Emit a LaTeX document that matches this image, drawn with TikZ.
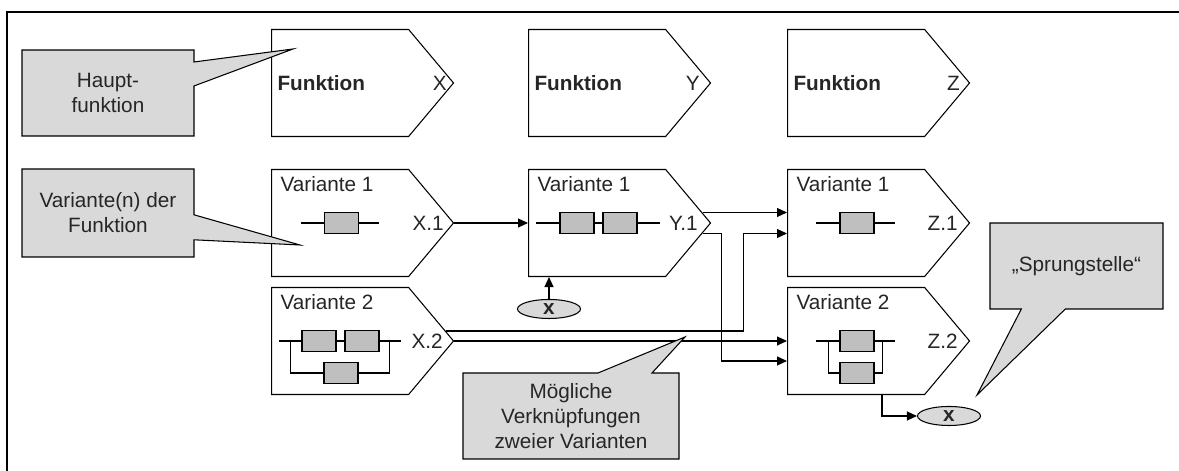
\documentclass[tikz,border=0pt]{standalone}
\usepackage{fontspec}
\setmainfont{Liberation Sans}
\usetikzlibrary{calc,shapes.symbols,shapes.geometric,shapes.callouts,arrows.meta}
\definecolor{NoteGray}{RGB}{217,217,217}
\definecolor{ElemGray}{RGB}{191,191,191}
\tikzset{
  fbox/.style={signal, signal to=east, signal from=nowhere, signal pointer angle=100,
    draw, fill=white, minimum width=3.64cm, minimum height=2.14cm, inner sep=0pt, anchor=west},
  txt/.style={inner sep=0pt},
  elem/.style={draw, fill=ElemGray, minimum width=0.68cm, minimum height=0.42cm, inner sep=0pt},
  jumpmark/.style={ellipse, draw, fill=NoteGray, minimum width=1.26cm, minimum height=0.38cm, inner sep=0pt},
  note/.style={rectangle callout, draw, fill=NoteGray, minimum width=3.44cm, minimum height=1.72cm,
    align=center, inner sep=2pt},
  link/.style={-{Triangle[length=2mm,width=1.8mm]}},
}

\begin{document}
\begin{tikzpicture}[font=\fontsize{11.8}{14.2}\selectfont, line width=0.6pt, text=black!85]
  \useasboundingbox (0,0) rectangle (23.58,9.42);
  \draw[line width=1.1pt] (0.14,0) -- (0.14,9.18) -- (23.58,9.18);

  % --- (A) Hauptfunktionen ---
  \node[fbox] (fX) at (5.42,7.76) {};
  \node[fbox] (fY) at (10.56,7.76) {};
  \node[fbox] (fZ) at (15.74,7.76) {};
  \node[txt, anchor=west] (fXt) at ($(fX.west)+(0.12,0)$) {\bfseries Funktion};
  \node[txt, anchor=west] (fYt) at ($(fY.west)+(0.12,0)$) {\bfseries Funktion};
  \node[txt, anchor=west] (fZt) at ($(fZ.west)+(0.12,0)$) {\bfseries Funktion};
  \node[txt, anchor=east] (fXl) at ($(fX.east)+(-0.14,0)$) {X};
  \node[txt, anchor=east] (fYl) at ($(fY.east)+(-0.22,0)$) {Y};
  \node[txt, anchor=east] (fZl) at ($(fZ.east)+(-0.2,0)$) {Z};

  % --- (B) Varianten ---
  \node[fbox] (vX1) at (5.42,4.96) {};
  \node[fbox] (vX2) at (5.42,2.60) {};
  \node[fbox] (vY1) at (10.56,4.96) {};
  \node[fbox] (vZ1) at (15.74,4.96) {};
  \node[fbox] (vZ2) at (15.74,2.60) {};
  \node[txt, anchor=base west] (vX1t) at ($(vX1.west)+(0.18,0.62)$) {Variante 1};
  \node[txt, anchor=base west] (vX2t) at ($(vX2.west)+(0.18,0.62)$) {Variante 2};
  \node[txt, anchor=base west] (vY1t) at ($(vY1.west)+(0.18,0.62)$) {Variante 1};
  \node[txt, anchor=base west] (vZ1t) at ($(vZ1.west)+(0.18,0.62)$) {Variante 1};
  \node[txt, anchor=base west] (vZ2t) at ($(vZ2.west)+(0.18,0.62)$) {Variante 2};
  \node[txt, anchor=east] (vX1l) at ($(vX1.east)+(-0.2,0)$) {X.1};
  \node[txt, anchor=east] (vX2l) at ($(vX2.east)+(-0.22,0)$) {X.2};
  \node[txt, anchor=east] (vY1l) at ($(vY1.east)+(-0.26,0)$) {Y.1};
  \node[txt, anchor=east] (vZ1l) at ($(vZ1.east)+(-0.24,0)$) {Z.1};
  \node[txt, anchor=east] (vZ2l) at ($(vZ2.east)+(-0.24,0)$) {Z.2};

  % elements inside the variants
  \node[elem] (eX1) at (6.83,4.96) {};
  \draw ($(eX1.west)+(-0.46,0)$) -- (eX1.west) (eX1.east) -- ++(0.4,0);

  \node[elem] (eY1a) at (11.54,4.96) {};
  \node[elem] (eY1b) at (12.40,4.96) {};
  \draw ($(eY1a.west)+(-0.46,0)$) -- (eY1a) -- (eY1b) (eY1b.east) -- ++(0.44,0);

  \node[elem] (eZ1) at (17.14,4.96) {};
  \draw ($(eZ1.west)+(-0.46,0)$) -- (eZ1.west) (eZ1.east) -- ++(0.4,0);

  \node[elem] (eX2a) at (6.38,2.60) {};
  \node[elem] (eX2b) at (7.24,2.60) {};
  \node[elem] (eX2c) at (6.82,1.96) {};
  \draw ($(eX2a.west)+(-0.44,0)$) -- (eX2a) -- (eX2b) (eX2b.east) -- ++(0.42,0);
  \draw ($(eX2a.west)+(-0.22,0)$) |- (eX2c.west);
  \draw (eX2c.east) -| ($(eX2b.east)+(0.2,0)$);

  \node[elem] (eZ2a) at (17.14,2.60) {};
  \node[elem] (eZ2b) at (17.14,1.96) {};
  \draw ($(eZ2a.west)+(-0.46,0)$) -- (eZ2a.west) (eZ2a.east) -- ++(0.4,0);
  \draw ($(eZ2a.west)+(-0.22,0)$) |- (eZ2b.west);
  \draw (eZ2b.east) -| ($(eZ2a.east)+(0.16,0)$);

  % --- (C) Verknuepfungen ---
  \coordinate (yo1) at ($(vY1.east)+(-0.17,0.21)$);
  \coordinate (yo2) at ($(vY1.east)+(-0.17,-0.21)$);
  \coordinate (xo1) at ($(vX2.east)+(-0.17,0.2)$);
  \coordinate (z1a) at ($(vZ1.west)+(0,0.21)$);
  \coordinate (z1b) at ($(vZ1.west)+(0,-0.21)$);
  \coordinate (z2b) at ($(vZ2.west)+(0,-0.40)$);

  \draw[link] (vX1.east) -- (vY1.west);
  \draw[link] (yo1) -- (z1a);
  \draw[link] (yo2) -- ++(0.38,0) |- (z2b);
  \draw[link] (xo1) -- ++(5.96,0) |- (z1b);
  \draw[link] (vX2.east) -- (vZ2.west);

  % jump marks
  \node[jumpmark] (jY) at (10.98,3.24) {\textbf{x}};
  \draw[link] (jY) -- (jY |- vY1.south);
  \node[jumpmark] (jZ) at (18.98,1.10) {\textbf{x}};
  \draw[link] ($(vZ2.west |- vZ2.south)+(1.9,0)$) |- (jZ);

  % --- (D) Erlaeuterungen ---
  \node[note, callout absolute pointer={(5.86,8.44)}, callout pointer width=0.48cm]
    (nMain) at (2.16,7.56) {Haupt-\\funktion};
  \node[note, minimum height=1.76cm, callout absolute pointer={(6.00,4.52)}, callout pointer width=0.5cm]
    (nVar) at (2.16,5.16) {Variante(n) der\\Funktion};
  \node[note, minimum width=4.32cm, callout absolute pointer={(13.70,2.68)}, callout pointer width=1.08cm]
    (nLink) at (11.42,1.10) {Mögliche\\Verknüpfungen\\zweier Varianten};
  \node[note, minimum width=3.46cm, callout absolute pointer={(19.54,1.52)}, callout pointer width=0.88cm]
    (nJump) at (21.53,4.10) {„Sprungstelle“};

\end{tikzpicture}
\end{document}
